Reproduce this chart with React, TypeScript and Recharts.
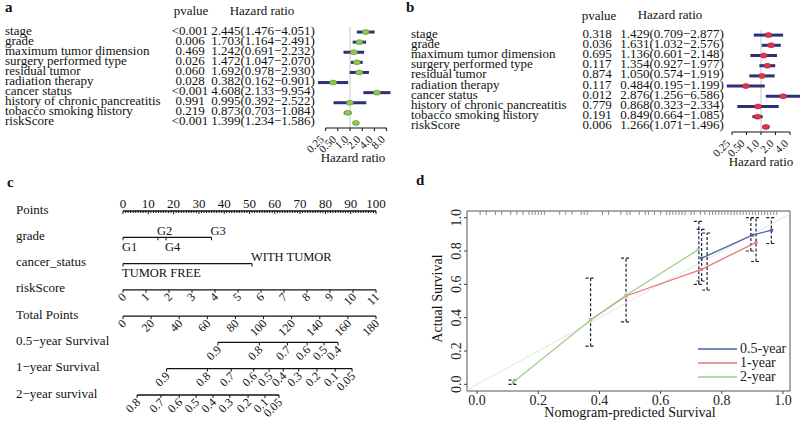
import React from "react";
import {
  ScatterChart,
  Scatter,
  XAxis,
  YAxis,
  ErrorBar,
  ReferenceLine,
  ReferenceArea,
  Legend,
} from "recharts";

const FONT = '"Liberation Serif", "Times New Roman", serif';
const NAVY = "#2c2f7a";

// ---- a / b : Cox regression forest plots ----
const factors = [
  "stage",
  "grade",
  "maximum tumor dimension",
  "surgery performed type",
  "residual tumor",
  "radiation therapy",
  "cancer status",
  "history of chronic pancreatitis",
  "tobacco smoking history",
  "riskScore",
];

const pvalA = ["<0.001", "0.006", "0.469", "0.026", "0.060", "0.028", "<0.001", "0.991", "0.219", "<0.001"];
const hrA = [2.445, 1.703, 1.242, 1.472, 1.692, 0.382, 4.608, 0.995, 0.873, 1.399];
const lowA = [1.476, 1.164, 0.691, 1.047, 0.978, 0.162, 2.133, 0.392, 0.703, 1.234];
const highA = [4.051, 2.491, 2.232, 2.07, 2.93, 0.901, 9.954, 2.522, 1.084, 1.586];

const pvalB = ["0.318", "0.036", "0.695", "0.117", "0.874", "0.117", "0.012", "0.779", "0.191", "0.006"];
const hrB = [1.429, 1.631, 1.136, 1.354, 1.05, 0.484, 2.876, 0.868, 0.849, 1.266];
const lowB = [0.709, 1.032, 0.601, 0.927, 0.574, 0.195, 1.256, 0.323, 0.664, 1.071];
const highB = [2.877, 2.576, 2.148, 1.977, 1.919, 1.199, 6.586, 2.334, 1.085, 1.496];

const hrTicksA = [0.25, 0.5, 1, 2, 4, 8];
const hrTickLabelsA = ["0.25", "0.50", "1.0", "2.0", "4.0", "8.0"];
const hrTicksB = [0.25, 0.5, 1, 2, 4];
const hrTickLabelsB = ["0.25", "0.50", "1.0", "2.0", "4.0"];

// ---- c : nomogram ----
const rowNames = [
  "Points",
  "grade",
  "cancer_status",
  "riskScore",
  "Total Points",
  "0.5\u2212year Survival",
  "1\u2212year Survival",
  "2\u2212year survival",
];
const pointsTicks = Array.from({ length: 101 }, (_, i) => i);
const gradeLevels = ["G1", "G2", "G4", "G3"];
const gradePoints = [0, 13.8, 17, 35];
const gradeAbove = [false, true, false, true];
const cancerLevels = ["TUMOR FREE", "WITH TUMOR"];
const cancerPoints = [0, 51];
const cancerAbove = [false, true];
const riskScoreTicks = [0, 1, 2, 3, 4, 5, 6, 7, 8, 9, 10, 11];
const totalPointsTicks = [0, 20, 40, 60, 80, 100, 120, 140, 160, 180];
const surv05Labels = ["0.9", "0.8", "0.7", "0.6", "0.5", "0.4"];
const surv05Total = [67.5, 97, 117, 131, 143, 153];
const surv1Labels = ["0.9", "0.8", "0.7", "0.6", "0.5", "0.4", "0.3", "0.2", "0.1", "0.05"];
const surv1Total = [31, 60, 77, 93, 104, 114, 125, 138, 151, 163];
const surv2Labels = ["0.8", "0.7", "0.6", "0.5", "0.4", "0.3", "0.2", "0.1", "0.05"];
const surv2Total = [10, 27, 40, 52, 64, 76, 89, 101, 111];

// ---- d : calibration ----
const calNames = ["0.5-year", "1-year", "2-year"];
const calColors = ["#4a62a6", "#e5787a", "#9fd08a"];
const calX05 = [0.734, 0.9, 0.963];
const calY05 = [0.757, 0.895, 0.925];
const calX1 = [0.371, 0.487, 0.734, 0.912];
const calY1 = [0.386, 0.53, 0.69, 0.852];
const calX2 = [0.119, 0.371, 0.487, 0.723];
const calY2 = [0.014, 0.386, 0.535, 0.808];
const barX = [0.119, 0.371, 0.487, 0.725, 0.734, 0.752, 0.895, 0.912, 0.962];
const barLow = [0.0, 0.229, 0.375, 0.6, 0.62, 0.566, 0.8, 0.737, 0.845];
const barHigh = [0.025, 0.637, 0.757, 0.978, 0.93, 0.908, 1.0, 1.0, 1.0];
const rugX = [
  0.01, 0.03, 0.06, 0.08, 0.11, 0.13, 0.15, 0.17, 0.18, 0.19, 0.2, 0.21, 0.22, 0.27, 0.29, 0.31,
  0.34, 0.35, 0.36, 0.41, 0.43, 0.47, 0.49, 0.5, 0.53, 0.55, 0.56, 0.58, 0.6, 0.62, 0.63, 0.64,
  0.65, 0.66, 0.67, 0.68, 0.7, 0.71, 0.73, 0.745, 0.76, 0.77, 0.78, 0.79, 0.8, 0.81, 0.82, 0.83,
  0.84, 0.85, 0.86, 0.87, 0.88, 0.89, 0.9, 0.91, 0.92, 0.93, 0.94, 0.95, 0.96, 0.97, 0.98,
];
const calTicks = [0, 0.2, 0.4, 0.6, 0.8, 1.0];

type ForestCfg = {
  left: number;
  width: number;
  plotLeft: number;
  marginTop: number;
  marginBottom: number;
  marginRight: number;
  domain: [number, number];
  nameX: number;
  pX: number;
  hrX: number;
  color: string;
  edge: string;
  ticks: number[];
  tickLabels: string[];
};

function Forest(props: { pvals: string[]; hr: number[]; low: number[]; high: number[]; cfg: ForestCfg }) {
  const { pvals, hr, low, high, cfg } = props;
  const rows = factors.map((name, i) => ({
    row: i + 1,
    name,
    p: pvals[i],
    hr: hr[i],
    low: low[i],
    high: high[i],
    err: [hr[i] - low[i], high[i] - hr[i]],
  }));

  const rowTick = (p: any) => {
    const r = rows.find((d) => d.row === p.payload.value);
    if (!r) return <g />;
    const y = p.y - 2;
    const txt = `${r.hr.toFixed(3)}(${r.low.toFixed(3)}\u2212${r.high.toFixed(3)})`;
    return (
      <g fontFamily={FONT} fontSize={13} fill="#111">
        <text x={cfg.nameX} y={y} dominantBaseline="central">{r.name}</text>
        <text x={cfg.pX} y={y} textAnchor="middle" dominantBaseline="central">{r.p}</text>
        <text x={cfg.hrX} y={y} textAnchor="middle" dominantBaseline="central">{txt}</text>
      </g>
    );
  };

  const hrTick = (p: any) => {
    const i = cfg.ticks.indexOf(p.payload.value);
    const ax = p.x - 1;
    const ay = p.y + 9;
    return (
      <text x={ax} y={ay} textAnchor="end" fontSize={11} fontFamily={FONT} fill="#111"
        transform={`rotate(-45 ${ax} ${ay})`}>
        {cfg.tickLabels[i]}
      </text>
    );
  };

  return (
    <div style={{ position: "absolute", left: cfg.left, top: 0 }}>
      <ScatterChart
        width={cfg.width}
        height={170}
        margin={{ top: cfg.marginTop, right: cfg.marginRight, bottom: cfg.marginBottom, left: 0 }}
      >
        <XAxis
          type="number"
          dataKey="hr"
          scale="log"
          domain={cfg.domain}
          allowDataOverflow
          ticks={cfg.ticks}
          interval={0}
          tick={hrTick}
          tickSize={3}
          tickMargin={0}
          tickLine={{ stroke: "#111" }}
          axisLine={false}
          height={30}
        />
        <YAxis
          type="number"
          dataKey="row"
          domain={[0.5, 10.5]}
          allowDataOverflow
          reversed
          ticks={rows.map((r) => r.row)}
          interval={0}
          tick={rowTick}
          width={cfg.plotLeft}
          axisLine={false}
          tickLine={false}
        />
        <ReferenceLine x={1} stroke="#c8c8c8" strokeWidth={1} />
        <ReferenceLine
          segment={[
            { x: cfg.ticks[0], y: 10.5 },
            { x: cfg.ticks[cfg.ticks.length - 1], y: 10.5 },
          ]}
          stroke="#111"
          ifOverflow="visible"
        />
        <Scatter
          data={rows}
          isAnimationActive={false}
          shape={(s: any) => (
            <ellipse cx={s.cx} cy={s.cy} rx={3.5} ry={2.5} fill={cfg.color} stroke={cfg.edge} strokeWidth={0.6} />
          )}
        >
          <ErrorBar dataKey="err" direction="x" width={0} stroke={NAVY} strokeWidth={3} />
        </Scatter>
      </ScatterChart>
    </div>
  );
}

const NomoMark = (props: any) => {
  const { cx, cy, payload } = props;
  if (cx == null || cy == null || !payload) return <g />;
  const m = payload;
  let label: React.ReactNode = null;
  if (m.label) {
    if (m.mode === "top") {
      label = (
        <text x={cx} y={cy - 3} textAnchor="middle" fontSize={13} fontFamily={FONT} fill="#111">{m.label}</text>
      );
    } else if (m.mode === "above") {
      label = <text x={cx - 1} y={cy - 2.5} fontSize={12.5} fontFamily={FONT} fill="#111">{m.label}</text>;
    } else if (m.mode === "below") {
      label = <text x={cx - 1} y={cy + 13.5} fontSize={12.5} fontFamily={FONT} fill="#111">{m.label}</text>;
    } else {
      const ax = cx + 4;
      const ay = cy + 8;
      label = (
        <text x={ax} y={ay} textAnchor="end" fontSize={12} fontFamily={FONT} fill="#111"
          transform={`rotate(-45 ${ax} ${ay})`}>
          {m.label}
        </text>
      );
    }
  }
  return (
    <g>
      <line x1={cx} x2={cx} y1={cy} y2={cy + m.tick} stroke="#111" strokeWidth={1} />
      {label}
    </g>
  );
};

function Nomogram() {
  const toPts = (tp: number) => (tp * 100) / 180;
  const nomoRows = [
    pointsTicks.map((v) => ({ x: v, y: 0, label: v % 10 === 0 ? String(v) : "", mode: "top", tick: v % 10 === 0 ? 3 : 2 })),
    gradeLevels.map((g, i) => ({ x: gradePoints[i], y: 1, label: g, mode: gradeAbove[i] ? "above" : "below", tick: 3 })),
    cancerLevels.map((c, i) => ({ x: cancerPoints[i], y: 2, label: c, mode: cancerAbove[i] ? "above" : "below", tick: 3 })),
    riskScoreTicks.map((v) => ({ x: (v * 100) / 11, y: 3, label: String(v), mode: "rot", tick: 3 })),
    totalPointsTicks.map((v) => ({ x: toPts(v), y: 4, label: String(v), mode: "rot", tick: 3 })),
    surv05Labels.map((l, i) => ({ x: toPts(surv05Total[i]), y: 5, label: l, mode: "rot", tick: 3 })),
    surv1Labels.map((l, i) => ({ x: toPts(surv1Total[i]), y: 6, label: l, mode: "rot", tick: 3 })),
    surv2Labels.map((l, i) => ({ x: toPts(surv2Total[i]), y: 7, label: l, mode: "rot", tick: 3 })),
  ];

  const nameTick = (p: any) => (
    <text x={16} y={p.y - 2} dominantBaseline="central" fontSize={13} fontFamily={FONT} fill="#111">
      {rowNames[p.payload.value]}
    </text>
  );

  return (
    <div style={{ position: "absolute", left: 0, top: 170 }}>
      <ScatterChart width={400} height={253} margin={{ top: 41, right: 24, bottom: 28, left: 0 }}>
        <XAxis type="number" dataKey="x" domain={[0, 100]} hide />
        <YAxis
          type="number"
          dataKey="y"
          domain={[0, 7]}
          reversed
          ticks={[0, 1, 2, 3, 4, 5, 6, 7]}
          interval={0}
          tick={nameTick}
          width={123}
          axisLine={false}
          tickLine={false}
        />
        {nomoRows.map((d, i) => (
          <Scatter
            key={i}
            data={d}
            isAnimationActive={false}
            line={{ stroke: "#111", strokeWidth: 1.3 }}
            lineType="joint"
            shape={(s: any) => <NomoMark {...s} />}
          />
        ))}
      </ScatterChart>
    </div>
  );
}

function CalLegend() {
  return (
    <div style={{ fontFamily: FONT, fontSize: 14, color: "#222", lineHeight: "14px" }}>
      {calNames.map((n, i) => (
        <div key={n} style={{ display: "flex", alignItems: "center", height: 14 }}>
          <svg width={44} height={14} style={{ display: "block" }}>
            <line x1={2} x2={41} y1={7} y2={7} stroke={calColors[i]} strokeWidth={1.4} />
          </svg>
          <span>{n}</span>
        </div>
      ))}
    </div>
  );
}

function Calibration() {
  const calXs = [calX05, calX1, calX2];
  const calYs = [calY05, calY1, calY2];
  const rugData = rugX.map((x) => ({ x, y: 1.04 }));
  const barData = barX.map((x, i) => {
    const mid = (barLow[i] + barHigh[i]) / 2;
    return { x, y: mid, err: [mid - barLow[i], barHigh[i] - mid] };
  });

  const yTick = (p: any) => {
    const ax = p.x - 1;
    return (
      <text x={ax} y={p.y} textAnchor="middle" fontSize={14} fontFamily={FONT} fill="#222"
        transform={`rotate(-90 ${ax} ${p.y})`}>
        {Number(p.payload.value).toFixed(1)}
      </text>
    );
  };

  return (
    <div style={{ position: "absolute", left: 400, top: 170 }}>
      <ScatterChart width={400} height={253} margin={{ top: 41, right: 10, bottom: 2, left: 0 }}>
        <XAxis
          type="number"
          dataKey="x"
          domain={[-0.033, 1.023]}
          allowDataOverflow
          ticks={calTicks}
          interval={0}
          tickFormatter={(v: number) => v.toFixed(1)}
          tick={{ fontSize: 14, fontFamily: FONT, fill: "#222" }}
          tickSize={3}
          tickMargin={1}
          tickLine={{ stroke: "#444" }}
          axisLine={false}
          height={30}
        />
        <YAxis
          type="number"
          dataKey="y"
          domain={[-0.04, 1.04]}
          allowDataOverflow
          ticks={calTicks}
          interval={0}
          tick={yTick}
          tickSize={3}
          tickMargin={2}
          tickLine={{ stroke: "#444" }}
          axisLine={false}
          width={67}
        />
        <ReferenceLine
          segment={[
            { x: -0.033, y: -0.033 },
            { x: 1.023, y: 1.023 },
          ]}
          stroke="#e4e4e4"
          strokeWidth={1}
        />
        <Scatter
          data={rugData}
          isAnimationActive={false}
          shape={(s: any) => <line x1={s.cx} x2={s.cx} y1={s.cy} y2={s.cy + 4} stroke="#8a8a8a" strokeWidth={1} />}
        />
        {calNames.map((n, k) => (
          <Scatter
            key={n}
            name={n}
            data={calXs[k].map((x, i) => ({ x, y: calYs[k][i] }))}
            isAnimationActive={false}
            line={{ stroke: calColors[k], strokeWidth: 1.3 }}
            lineType="joint"
            shape={(s: any) => (
              <rect x={s.cx - 1.5} y={s.cy - 1.5} width={3} height={3} fill={calColors[k]} />
            )}
          />
        ))}
        <Scatter data={barData} isAnimationActive={false} shape={() => <g />}>
          <ErrorBar dataKey="err" direction="y" width={5} stroke="#1e1e3c" strokeWidth={1.2} strokeDasharray="3 2" />
        </Scatter>
        <ReferenceArea
          x1={-0.033}
          x2={1.023}
          y1={-0.04}
          y2={1.04}
          fill="none"
          fillOpacity={0}
          stroke="#555"
          strokeWidth={1}
          ifOverflow="visible"
        />
        <Legend
          layout="vertical"
          align="center"
          verticalAlign="middle"
          wrapperStyle={{ left: 296, top: 172, width: 100, height: 44 }}
          content={() => <CalLegend />}
        />
      </ScatterChart>
    </div>
  );
}

export default function App() {
  return (
    <div
      style={{
        position: "absolute",
        left: 0,
        top: 0,
        width: 800,
        height: 423,
        background: "#fff",
        overflow: "hidden",
      }}
    >
      <Forest
        pvals={pvalA}
        hr={hrA}
        low={lowA}
        high={highA}
        cfg={{
          left: 0,
          width: 400,
          plotLeft: 317,
          marginTop: 27,
          marginBottom: 12,
          marginRight: 8,
          domain: [0.1535, 10.87],
          nameX: 5,
          pX: 190,
          hrX: 263,
          color: "#8cc84b",
          edge: "#5c8f2e",
          ticks: hrTicksA,
          tickLabels: hrTickLabelsA,
        }}
      />
      <Forest
        pvals={pvalB}
        hr={hrB}
        low={lowB}
        high={highB}
        cfg={{
          left: 400,
          width: 400,
          plotLeft: 325,
          marginTop: 30,
          marginBottom: 8,
          marginRight: 0,
          domain: [0.179, 6.45],
          nameX: 11,
          pX: 197,
          hrX: 272,
          color: "#e2344e",
          edge: "#a81d33",
          ticks: hrTicksB,
          tickLabels: hrTickLabelsB,
        }}
      />
      <Nomogram />
      <Calibration />
      <svg
        width={800}
        height={423}
        style={{ position: "absolute", left: 0, top: 0, pointerEvents: "none" }}
        fontFamily={FONT}
        fill="#111"
      >
        <text x={5} y={12} fontSize={15} fontWeight="bold">a</text>
        <text x={406} y={12} fontSize={15} fontWeight="bold">b</text>
        <text x={7} y={187} fontSize={15} fontWeight="bold">c</text>
        <text x={416} y={185} fontSize={15} fontWeight="bold">d</text>
        <text x={191} y={14.5} fontSize={13} textAnchor="middle">pvalue</text>
        <text x={262} y={14.5} fontSize={13} textAnchor="middle">Hazard ratio</text>
        <text x={599} y={19.5} fontSize={13} textAnchor="middle">pvalue</text>
        <text x={670} y={19} fontSize={13} textAnchor="middle">Hazard ratio</text>
        <text x={353} y={162} fontSize={13} textAnchor="middle">Hazard ratio</text>
        <text x={761} y={166} fontSize={13} textAnchor="middle">Hazard ratio</text>
        <text x={630} y={417} fontSize={14} textAnchor="middle">Nomogram-predicted Survival</text>
        <text x={442} y={298.5} fontSize={14} textAnchor="middle" transform="rotate(-90 442 298.5)">
          Actual Survival
        </text>
      </svg>
    </div>
  );
}
